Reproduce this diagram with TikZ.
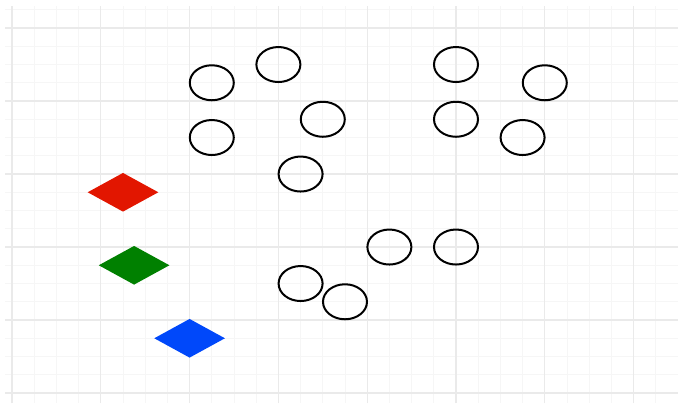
\documentclass[tikz,border=0pt]{standalone}
\usetikzlibrary{shapes.geometric}
\definecolor{gridminor}{RGB}{246,246,246}
\definecolor{gridmajor}{RGB}{234,234,234}
\definecolor{kitered}{RGB}{226,22,0}
\definecolor{kitegreen}{RGB}{0,128,0}
\definecolor{kiteblue}{RGB}{0,72,250}
\begin{document}
\begin{tikzpicture}[x=44.4pt, y=36.5pt,
    ring/.style={draw=black, line width=1pt, ellipse, inner sep=0pt,
        minimum width=22pt, minimum height=17.5pt},
    kite/.style={diamond, inner sep=0pt, minimum width=35.5pt, minimum height=19.5pt}]
    \useasboundingbox (-0.135,-0.137) rectangle (7.5,5.384);
    \draw[gridminor, line width=0.45pt] (-0.08,-0.14) grid[step=0.25] (7.5,5.3);
    \draw[gridmajor, line width=0.6pt] (-0.08,-0.14) grid[step=1] (7.5,5.3);
    \node[kite, fill=kitered] (kRed) at (1.25,2.75) {};
    \node[kite, fill=kitegreen] (kGreen) at (1.375,1.75) {};
    \node[kite, fill=kiteblue] (kBlue) at (2,0.75) {};
    \foreach \n/\px/\py in {1/2.25/4.25, 2/3/4.5, 3/3.5/3.75, 4/2.25/3.5, 5/3.25/3,
        6/5/4.5, 7/6/4.25, 8/5/3.75, 9/5.75/3.5,
        10/4.25/2, 11/5/2, 12/3.25/1.5, 13/3.75/1.25}
        \node[ring] (r\n) at (\px,\py) {};
\end{tikzpicture}
\end{document}
